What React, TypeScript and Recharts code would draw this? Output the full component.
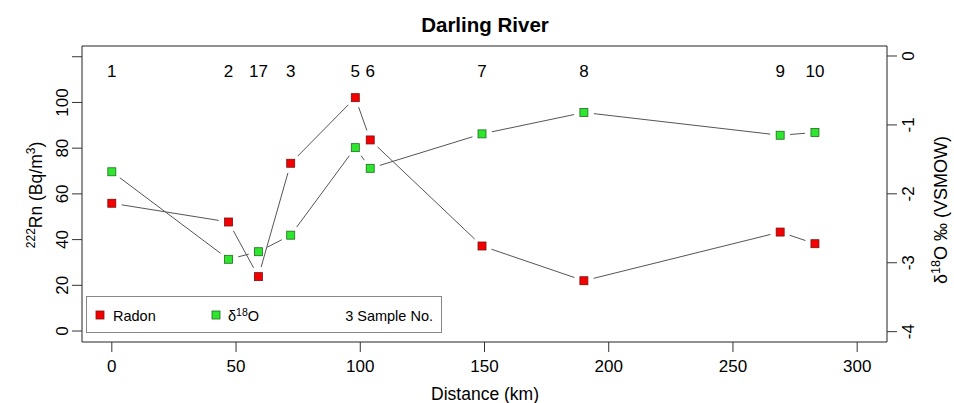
import { ComposedChart, Scatter, XAxis, YAxis, ReferenceArea } from 'recharts'

// sample positions along the river and readings
const distance = [0, 47, 59, 72, 98, 104, 149, 190, 269, 283]
const radon = [55.9, 47.7, 23.8, 73.4, 102.1, 83.6, 37.2, 22.0, 43.3, 38.2]
const d18O = [-1.68, -2.95, -2.84, -2.6, -1.33, -1.63, -1.13, -0.82, -1.15, -1.11]
const sampleNo = ['1', '2', '17', '3', '5', '6', '7', '8', '9', '10']

const xTicks = [0, 50, 100, 150, 200, 250, 300]
const leftTicks = [0, 20, 40, 60, 80, 100, 120]
const rightTicks = [0, -1, -2, -3, -4]

const rows = distance.map((d, i) => ({ dist: d, radon: radon[i], d18o: d18O[i], sample: sampleNo[i] }))

const FONT = '"Liberation Sans", Arial, Helvetica, sans-serif'
const RED = '#f40000'
const GREEN = '#2ee62e'

// R type="b": segments stop short of each point
const gapLine = (props: any) => {
  const pts = props.points || []
  const gap = 10
  const segs = []
  for (let i = 0; i < pts.length - 1; i++) {
    const a = pts[i], b = pts[i + 1]
    const dx = b.x - a.x, dy = b.y - a.y
    const len = Math.hypot(dx, dy)
    if (len <= gap * 2) continue
    const ux = dx / len, uy = dy / len
    segs.push(
      <line key={i} x1={a.x + ux * gap} y1={a.y + uy * gap} x2={b.x - ux * gap} y2={b.y - uy * gap}
        stroke="#555" strokeWidth={1} />
    )
  }
  return <g>{segs}</g>
}

const square = (fill: string, stroke: string) => (p: any) => (
  <rect x={p.cx - 4} y={p.cy - 4} width={8} height={8} fill={fill} stroke={stroke} strokeWidth={0.8} />
)

const sampleLabel = (p: any) => (
  <text x={p.cx} y={77} textAnchor="middle" fontSize={17} fontFamily={FONT} fill="#000">
    {p.payload.sample}
  </text>
)

const LeftTick = ({ x, y, payload }: any) => {
  if (payload.value === 120) return <g />
  return (
    <text transform={`translate(${x - 4},${y}) rotate(-90)`} textAnchor="middle" fontSize={17} fontFamily={FONT} fill="#000">
      {payload.value}
    </text>
  )
}

const RightTick = ({ x, y, payload }: any) => (
  <text transform={`translate(${x + 17},${y}) rotate(-90)`} textAnchor="middle" fontSize={17} fontFamily={FONT} fill="#000">
    {payload.value}
  </text>
)

const BottomTick = ({ x, y, payload }: any) => (
  <text x={x} y={y + 20} textAnchor="middle" fontSize={17} fontFamily={FONT} fill="#000">
    {payload.value}
  </text>
)

export default function App() {
  return (
    <div style={{ position: 'absolute', left: 0, top: 0, width: 954, height: 403, background: '#fff' }}>
      <ComposedChart width={954} height={403} data={rows} margin={{ top: 46, right: 0, bottom: 0, left: 0 }}>
        <XAxis dataKey="dist" type="number" domain={[-12, 312]} ticks={xTicks} allowDataOverflow
          axisLine={false} tickLine={{ stroke: '#333' }} tickSize={10} tickMargin={0} height={61} tick={<BottomTick />} />
        <YAxis yAxisId="left" type="number" domain={[-4.8, 124.7]} ticks={leftTicks} allowDataOverflow
          axisLine={false} tickLine={{ stroke: '#333' }} tickSize={10} tickMargin={0} width={82} tick={<LeftTick />} />
        <YAxis yAxisId="right" orientation="right" type="number" domain={[-4.15, 0.145]} ticks={rightTicks} allowDataOverflow
          axisLine={false} tickLine={{ stroke: '#333' }} tickSize={10} tickMargin={0} width={67} tick={<RightTick />} />
        <ReferenceArea yAxisId="left" x1={-12} x2={312} y1={-4.8} y2={124.7} fill="none" stroke="#222" strokeWidth={1} />
        <Scatter yAxisId="right" dataKey="d18o" line={gapLine} lineType="joint" shape={square(GREEN, '#1f6b1f')} isAnimationActive={false} />
        <Scatter yAxisId="left" dataKey="radon" line={gapLine} lineType="joint" shape={square(RED, '#7a1010')} isAnimationActive={false} />
        <Scatter yAxisId="left" dataKey="radon" shape={sampleLabel} isAnimationActive={false} />
      </ComposedChart>
      <svg width={954} height={403} style={{ position: 'absolute', left: 0, top: 0, pointerEvents: 'none' }} fontFamily={FONT}>
        <text x={485} y={31.5} textAnchor="middle" fontSize={20.5} fontWeight="bold" fill="#000">Darling River</text>
        <text x={485} y={400} textAnchor="middle" fontSize={17.5} fill="#000">Distance (km)</text>
        <text transform="translate(42,195) rotate(-90)" textAnchor="middle" fontSize={17.5} fill="#000">
          <tspan fontSize={12} dy={-7}>222</tspan>
          <tspan dy={7}>Rn (Bq/m</tspan>
          <tspan fontSize={12} dy={-7}>3</tspan>
          <tspan dy={7}>)</tspan>
        </text>
        <text transform="translate(947,210) rotate(-90)" textAnchor="middle" fontSize={18} fill="#000">
          <tspan>δ</tspan>
          <tspan fontSize={12.5} dy={-7}>18</tspan>
          <tspan dy={7}>O ‰ (VSMOW)</tspan>
        </text>
        <rect x={86.5} y={296.5} width={355} height={36} fill="#fff" stroke="#888" strokeWidth={1} />
        <rect x={96} y={311} width={8} height={8} fill={RED} stroke="#7a1010" strokeWidth={0.8} />
        <text x={113} y={320.5} fontSize={14.5} fill="#000">Radon</text>
        <rect x={212} y={311} width={8} height={8} fill={GREEN} stroke="#1f6b1f" strokeWidth={0.8} />
        <text x={228} y={320.5} fontSize={14.5} fill="#000">
          <tspan>δ</tspan>
          <tspan fontSize={10.5} dy={-5}>18</tspan>
          <tspan dy={5}>O</tspan>
        </text>
        <text x={433} y={320.5} textAnchor="end" fontSize={14.5} fill="#000">3 Sample No.</text>
      </svg>
    </div>
  )
}
